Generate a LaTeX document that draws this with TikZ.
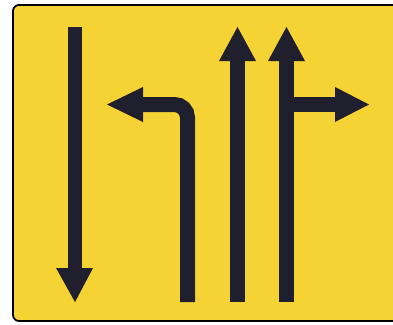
\documentclass[tikz,border=0pt]{standalone}
\definecolor{signyellow}{HTML}{F6D334}
\definecolor{signink}{HTML}{1F1F2D}

\begin{document}
\begin{tikzpicture}[x=1pt, y=-1pt]
  \useasboundingbox (0,0) rectangle (393,324);
  % panneau : fond jaune, bord noir arrondi
  \fill[white] (0,0) rectangle (393,324);
  \filldraw[fill=signyellow, draw=black, line width=1.8pt, rounded corners=6pt]
    (13,5) rectangle (400,321);
  \begin{scope}[signink]
    % voie 1 : fleche vers le bas
    \draw[line width=14pt] (75,27) -- (75,270);
    \fill (56,268) -- (93,268) -- (75,302) -- cycle;
    % voie 2 : tourne-a-gauche
    \draw[line width=15pt, rounded corners=13pt] (187.5,302) -- (187.5,104.5) -- (141,104.5);
    \fill (143,87) -- (143,122) -- (107,104.5) -- cycle;
    % voies 3 et 4 : tout droit
    \foreach \x in {237.5, 286.5} {
      \draw[line width=15pt] (\x,302) -- (\x,59);
      \fill (\x-18.5,61) -- (\x+18.5,61) -- (\x,27) -- cycle;
    }
    % voie 4 : branche a droite
    \draw[line width=15pt] (286.5,104.5) -- (337,104.5);
    \fill (335,87) -- (335,122) -- (369,104.5) -- cycle;
  \end{scope}
\end{tikzpicture}
\end{document}
